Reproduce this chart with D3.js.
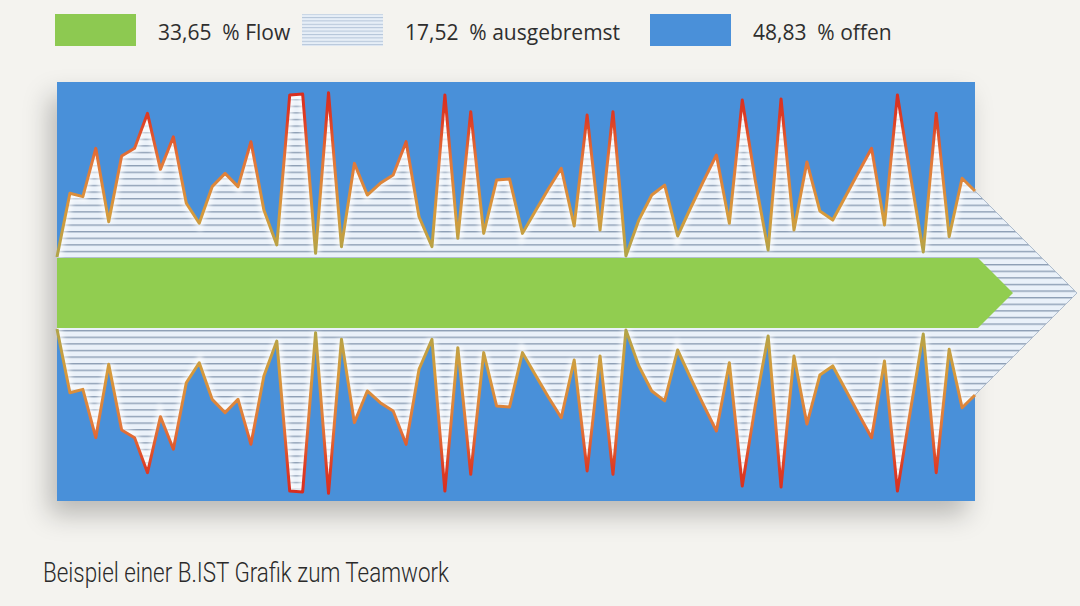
<!DOCTYPE html>
<html>
  <head>
    <meta charset="UTF-8">
    <style>
      body {
        margin: 0;
        background-color: #f4f3ef;
        font-family: "Open Sans", Arial, sans-serif;
      }

      svg {
        display: block;
      }

      .legend text {
        white-space: pre;
      }
    </style>
    <script type="text/javascript" src="https://cdn.jsdelivr.net/npm/d3@7"></script>
  </head>

  <body>
    <svg id="Chart"></svg>

    <script type="text/javascript">
      // Profile of the striped band above the green arrow (mirrored below), 0..100
      let values = [0, 36.4, 34.5, 62.1, 20.2, 57.7, 62.1, 82.1, 50.1, 68.7,
        30.7, 19.3, 40.2, 47.8, 40.2, 65.9, 26.9, 6.9, 92.6, 93.1,
        2.1, 93.9, 5.9, 53.5, 35.4, 42.1, 46.9, 65.9, 23.0, 5.9,
        92.6, 10.7, 83.0, 13.5, 44.0, 44.6, 13.5, 26.3, 38.9, 50.7,
        17.7, 81.1, 15.4, 83.0, 0.6, 21.1, 35.4, 41.1, 12.0, 28.0,
        43.4, 58.3, 19.3, 89.7, 44.0, 4.0, 90.3, 15.4, 54.3, 26.3,
        21.1, 34.9, 48.6, 62.1, 18.3, 92.6, 46.9, 2.9, 82.1, 11.6,
        45.0, 37.7];

      let legendKeys = ['flow', 'ausgebremst', 'offen'];
      let legendShares = ['33,65', '17,52', '48,83'];
      let legendNames = ['Flow', 'ausgebremst', 'offen'];

      let caption = 'Beispiel einer B.IST Grafik zum Teamwork';

      function getConfig() {
        let width = 1080;
        let height = 606;
        let container = d3.select('#Chart')
          .attr('width', width)
          .attr('height', height)
        let left = 57, right = 975;
        let top = 82, bottom = 501;
        let cy = 293;
        return {width, height, container, left, right, top, bottom, cy}
      }

      function getScales(config) {
        let {left, right} = config;
        let x = d3.scaleLinear()
          .domain([0, values.length - 1])
          .range([left, right])
        let yTop = d3.scaleLinear()
          .domain([0, 100])
          .range([257, 82])
        let yBot = d3.scaleLinear()
          .domain([0, 100])
          .range([329, 504])
        return {x, yTop, yBot}
      }

      function addDefs(svg) {
        let defs = svg.append('defs');

        let pat = defs.append('pattern')
          .attr('id', 'stripes')
          .attr('patternUnits', 'userSpaceOnUse')
          .attr('width', 10)
          .attr('height', 6.6)
        pat.append('rect').attr('width', 10).attr('height', 6.6).attr('fill', '#eaf1f9')
        pat.append('rect').attr('y', 0).attr('width', 10).attr('height', 1.4).attr('fill', '#8e9fb5')

        let patL = defs.append('pattern')
          .attr('id', 'stripesLegend')
          .attr('patternUnits', 'userSpaceOnUse')
          .attr('width', 10)
          .attr('height', 3.4)
        patL.append('rect').attr('width', 10).attr('height', 3.4).attr('fill', '#e6eef7')
        patL.append('rect').attr('width', 10).attr('height', 1).attr('fill', '#b3c4d8')

        let stops = [
          [0, '#d5261d'], [0.22, '#de3f25'], [0.45, '#e2783a'],
          [0.75, '#d69a3c'], [1, '#b0a448']
        ];
        let gTop = defs.append('linearGradient')
          .attr('id', 'lineTop')
          .attr('gradientUnits', 'userSpaceOnUse')
          .attr('x1', 0).attr('x2', 0).attr('y1', 82).attr('y2', 257)
        gTop.selectAll('stop').data(stops).enter().append('stop')
          .attr('offset', d => d[0]).attr('stop-color', d => d[1])
        let gBot = defs.append('linearGradient')
          .attr('id', 'lineBot')
          .attr('gradientUnits', 'userSpaceOnUse')
          .attr('x1', 0).attr('x2', 0).attr('y1', 504).attr('y2', 329)
        gBot.selectAll('stop').data(stops).enter().append('stop')
          .attr('offset', d => d[0]).attr('stop-color', d => d[1])

        let shadow = defs.append('filter')
          .attr('id', 'shadow')
          .attr('x', -0.1).attr('y', -0.1).attr('width', 1.2).attr('height', 1.3)
        shadow.append('feDropShadow')
          .attr('dx', -8).attr('dy', 14).attr('stdDeviation', 13)
          .attr('flood-color', '#000').attr('flood-opacity', 0.24)

        defs.append('filter').attr('id', 'blur')
          .append('feGaussianBlur').attr('stdDeviation', 2)
      }

      function drawLegend(svg) {
        let swatchX = [55, 302, 650];
        let textX = [158, 405, 753];
        let fills = ['#8dc951', 'url(#stripesLegend)', '#4a90d9'];
        let g = svg.append('g').attr('class', 'legend');
        g.selectAll('rect.swatch')
          .data(legendKeys)
          .enter()
          .append('rect')
          .attr('class', 'swatch')
          .attr('x', (d, i) => swatchX[i])
          .attr('y', 14)
          .attr('width', 81)
          .attr('height', 32)
          .attr('fill', (d, i) => fills[i])
        g.selectAll('text')
          .data(legendKeys)
          .enter()
          .append('text')
          .attr('x', (d, i) => textX[i])
          .attr('y', 40)
          .attr('font-size', 21)
          .attr('fill', '#2e2e2e')
          .text((d, i) => legendShares[i] + '  % ' + legendNames[i])
      }

      function drawChart(svg, config, scales) {
        let {left, right, top, bottom, cy} = config;
        let {x, yTop, yBot} = scales;
        let n = values.length;

        // "offen" background
        svg.append('rect')
          .attr('x', left)
          .attr('y', top)
          .attr('width', right - left)
          .attr('height', bottom - top)
          .attr('fill', '#4a90d9')
          .attr('filter', 'url(#shadow)')

        // striped arrow: top profile, arrow tip, mirrored bottom profile
        let lastY = yTop(values[n - 1]);
        let tip = [x(n - 1) + (cy - lastY), cy];
        let topPts = values.map((v, i) => [x(i), yTop(v)]);
        let botPts = values.map((v, i) => [x(i), yBot(v)]);
        let shape = topPts.concat([tip], botPts.slice().reverse());

        svg.append('clipPath').attr('id', 'bandClip')
          .append('path').attr('d', d3.line()(shape) + 'Z')

        svg.append('path')
          .attr('d', d3.line()(shape) + 'Z')
          .attr('fill', 'url(#stripes)')

        // soft light rim along the profile, inside the striped area
        let rim = svg.append('g').attr('clip-path', 'url(#bandClip)');
        let line = d3.line().x((d, i) => x(i));
        rim.append('path')
          .attr('d', line.y(d => yTop(d))(values))
          .attr('fill', 'none').attr('stroke', '#fff').attr('stroke-width', 9)
          .attr('stroke-opacity', 0.7).attr('filter', 'url(#blur)')
        rim.append('path')
          .attr('d', line.y(d => yBot(d))(values))
          .attr('fill', 'none').attr('stroke', '#fff').attr('stroke-width', 9)
          .attr('stroke-opacity', 0.7).attr('filter', 'url(#blur)')

        // green "Flow" arrow
        let gTop = 258, gBot = 328, gEnd = 978;
        let green = [[left, gTop], [gEnd, gTop], [gEnd + (cy - gTop), cy], [gEnd, gBot], [left, gBot]];
        svg.append('path')
          .attr('d', d3.line()(green) + 'Z')
          .attr('fill', '#91cd50')

        // profile lines
        svg.append('path')
          .attr('d', line.y(d => yTop(d))(values))
          .attr('fill', 'none')
          .attr('stroke', 'url(#lineTop)')
          .attr('stroke-width', 3)
          .attr('stroke-linejoin', 'round')
        svg.append('path')
          .attr('d', line.y(d => yBot(d))(values))
          .attr('fill', 'none')
          .attr('stroke', 'url(#lineBot)')
          .attr('stroke-width', 3)
          .attr('stroke-linejoin', 'round')

        // arrow outline beyond the blue field
        svg.append('path')
          .attr('d', d3.line()([[x(n - 1), lastY], tip, [x(n - 1), yBot(values[n - 1])]]))
          .attr('fill', 'none')
          .attr('stroke', '#aebccc')
          .attr('stroke-width', 1)
      }

      function drawCaption(svg) {
        svg.append('text')
          .attr('x', 43)
          .attr('y', 582)
          .attr('font-family', 'Roboto, sans-serif')
          .attr('font-weight', 300)
          .attr('font-size', 27)
          .attr('fill', '#2a2a2a')
          .attr('textLength', 406)
          .attr('lengthAdjust', 'spacingAndGlyphs')
          .text(caption)
      }

      let config = getConfig();
      let scales = getScales(config);
      addDefs(config.container);
      drawLegend(config.container);
      drawChart(config.container, config, scales);
      drawCaption(config.container);
    </script>
  </body>
</html>
